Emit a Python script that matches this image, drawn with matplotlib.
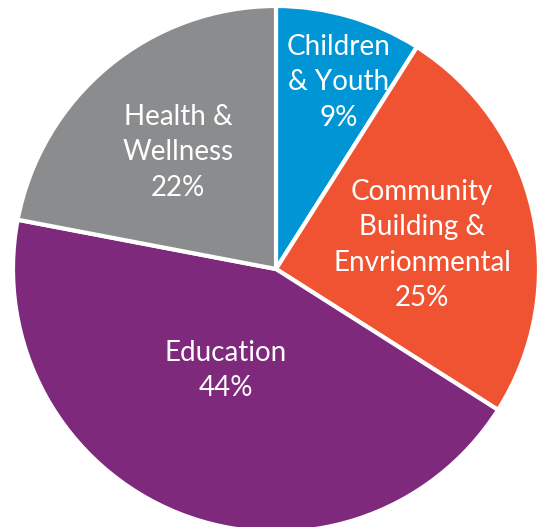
import numpy as np
import matplotlib.pyplot as plt

categories = ['Children\n& Youth', 'Community\nBuilding &\nEnvrionmental', 'Education', 'Health &\nWellness']
shares = [9, 25, 44, 22]
colors = ['#0096D6', '#F05332', '#7F297D', '#8B8C8E']

# label placement: fraction of radius, and angle nudge (deg) from wedge middle
label_dist = [0.75, 0.563, 0.43, 0.58]
label_shift = [-2.4, -3.3, -4.7, 0.4]

fig = plt.figure(figsize=(5.42, 5.27), dpi=100)
ax = fig.add_axes([0, 0, 1, 1])

wedges, _ = ax.pie(shares, colors=colors, startangle=90, counterclock=False,
                   center=(276, 258), radius=263,
                   wedgeprops=dict(edgecolor='white', linewidth=3))

for w, cat, val, d, s in zip(wedges, categories, shares, label_dist, label_shift):
    mid = np.deg2rad((w.theta1 + w.theta2) / 2 + s)
    x = w.center[0] + d * w.r * np.cos(mid)
    y = w.center[1] + d * w.r * np.sin(mid)
    ax.text(x, y, f'{cat}\n{val}%', ha='center', va='center', color='white',
            fontsize=20, family='Lato', linespacing=1.45)

ax.set_xlim(0, 542)
ax.set_ylim(0, 527)
ax.set_aspect('equal')
ax.axis('off')
fig.savefig('out.png', dpi=100)
